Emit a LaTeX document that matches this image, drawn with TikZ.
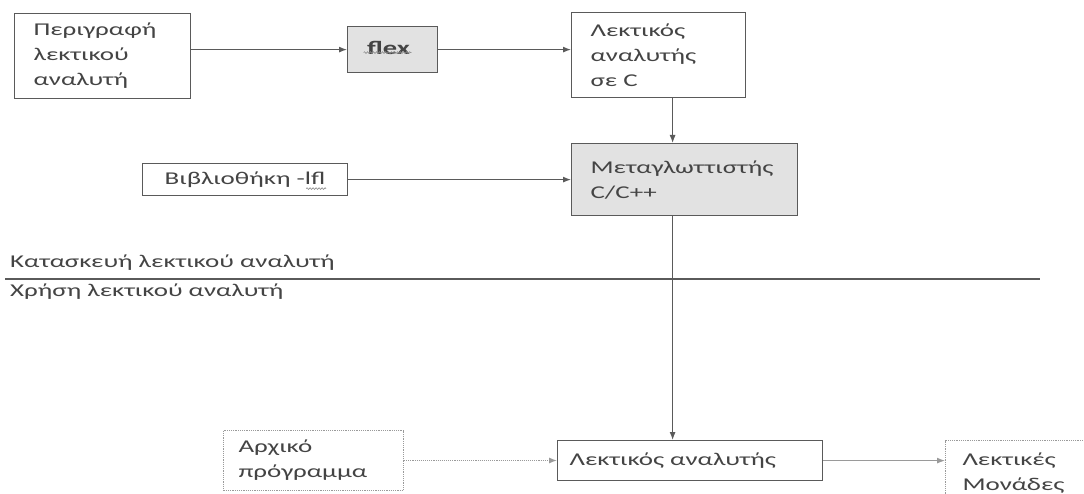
\documentclass[tikz,border=0pt]{standalone}
\usepackage{fontspec}
\setmainfont{Carlito}[FakeStretch=1.5]
\usetikzlibrary{arrows.meta,decorations.pathmorphing}

\definecolor{linegray}{HTML}{5A5A5A}
\definecolor{txtgray}{HTML}{444444}
\definecolor{fillgray}{HTML}{E2E2E2}
\definecolor{lightline}{HTML}{9A9A9A}
\definecolor{wavegray}{HTML}{8C8C8C}

\begin{document}
\begin{tikzpicture}[x=1pt,y=-1pt,
  every node/.style={font=\fontsize{18}{25}\selectfont, text=txtgray},
  box/.style={draw=linegray, line width=1.2pt, inner sep=0pt, anchor=north west, align=left},
  shaded/.style={box, fill=fillgray},
  faint/.style={box, draw=lightline, densely dotted, line width=1pt},
  arr/.style={draw=linegray, line width=1.1pt, -{Latex[length=8pt,width=6pt]}},
  faintarr/.style={arr, draw=lightline, densely dotted},
  label/.style={anchor=base west, inner sep=0pt},
  spell/.style={draw=wavegray, line width=0.6pt, decorate,
    decoration={snake, amplitude=0.9pt, segment length=3pt}}]

  \clip (0,0) rectangle (1084,494);
  \fill[white] (0,0) rectangle (1084,494);

  % building the scanner
  \node[box, minimum width=176pt, minimum height=85pt, text width=138pt] (desc) at (14,13)
    {Περιγραφή\\λεκτικού\\αναλυτή};
  \node[shaded, minimum width=90pt, minimum height=46pt, align=center,
        font=\fontsize{19}{24}\selectfont] (flex) at (347,26)
    {\raisebox{4pt}{\textbf{flex}}\hspace*{8pt}};
  \node[box, minimum width=174pt, minimum height=85pt, text width=136pt] (lexc) at (571,12)
    {Λεκτικός\\αναλυτής\\σε C};
  \node[shaded, minimum width=226pt, minimum height=72pt, text width=188pt] (comp) at (571,143)
    {Μεταγλωττιστής\\C/C++};
  \node[box, minimum width=205pt, minimum height=32pt, align=center] (lib) at (142,163)
    {Βιβλιοθήκη -lfl};

  % spell-check squiggles under the tool names
  \draw[spell] ([xshift=-29pt,yshift=-3pt]flex.center) -- ([xshift=19pt,yshift=-3pt]flex.center);
  \draw[spell] ([xshift=61pt,yshift=-9pt]lib.center) -- ([xshift=81pt,yshift=-9pt]lib.center);

  \draw[arr] (desc.east |- flex.west) -- (flex.west);
  \draw[arr] (flex.east) -- (flex.east -| lexc.west);
  \draw[arr] ([xshift=14pt]lexc.south) -- ([xshift=14pt]lexc.south |- comp.north);
  \draw[arr] (lib.east) -- (lib.east -| comp.west);

  % phase separator
  \node[label] (build) at (10,268) {Κατασκευή λεκτικού αναλυτή};
  \draw[draw=linegray, line width=1.2pt] (5,279) -- (1040,279);
  \node[label] (use) at (10,297) {Χρήση λεκτικού αναλυτή};

  % using the scanner
  \node[faint, minimum width=180pt, minimum height=60pt, text width=150pt] (src) at (223,430)
    {Αρχικό\\πρόγραμμα};
  \node[box, minimum width=265pt, minimum height=40pt, text width=241pt] (lex) at (557,440)
    {Λεκτικός αναλυτής};
  \node[faint, minimum width=160pt, minimum height=66pt, text width=126pt] (tok) at (945,440)
    {Λεκτικές\\Μονάδες};

  \draw[arr] ([xshift=-12pt]comp.south) -- ([xshift=-12pt]comp.south |- lex.north);
  \draw[faintarr] (src.east) -- (src.east -| lex.west);
  \draw[arr, draw=lightline] (lex.east) -- (lex.east -| tok.west);
\end{tikzpicture}
\end{document}
